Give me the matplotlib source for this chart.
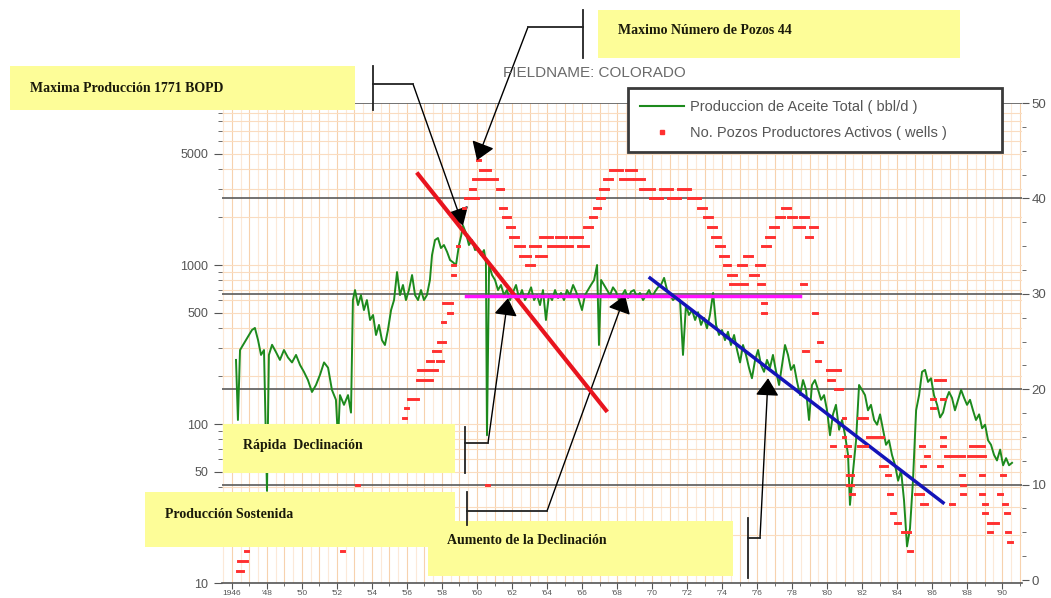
import matplotlib
matplotlib.use("Agg")
import matplotlib.pyplot as plt
import matplotlib.transforms as mtransforms
import numpy as np
from matplotlib.lines import Line2D
from matplotlib.patches import Rectangle
from matplotlib.ticker import (FixedLocator, FixedFormatter, FuncFormatter,
                               LogLocator, MultipleLocator, NullFormatter)

plt.rcParams['font.family'] = ['Liberation Sans', 'DejaVu Sans']

# oil rate, bbl/d
prod_year = [
    1946.23, 1946.34, 1946.46, 1946.63, 1946.80, 1946.97, 1947.14, 1947.31, 1947.49, 1947.66,
    1947.83, 1948.00, 1948.11, 1948.29, 1948.51, 1948.74, 1948.97, 1949.20, 1949.43, 1949.66,
    1949.89, 1950.11, 1950.34, 1950.57, 1950.80, 1951.03, 1951.26, 1951.49, 1951.71, 1951.94,
    1952.06, 1952.17, 1952.40, 1952.63, 1952.80,
    1952.91, 1953.03, 1953.20, 1953.37, 1953.54, 1953.71, 1953.89, 1954.06, 1954.23, 1954.40,
    1954.57, 1954.74, 1954.91, 1955.09, 1955.26, 1955.43, 1955.60, 1955.77, 1955.94, 1956.11,
    1956.29, 1956.46, 1956.63, 1956.80, 1956.97, 1957.14, 1957.31, 1957.43, 1957.60, 1957.77,
    1957.94, 1958.11, 1958.29, 1958.46, 1958.63, 1958.80, 1958.97, 1959.09, 1959.20,
    1959.37, 1959.54, 1959.71, 1959.89, 1960.06, 1960.23, 1960.40, 1960.51, 1960.57, 1960.69,
    1960.86, 1961.03, 1961.20, 1961.37, 1961.54, 1961.71, 1961.89, 1962.06, 1962.23, 1962.40,
    1962.57, 1962.74, 1962.91, 1963.09, 1963.26, 1963.43, 1963.60, 1963.77, 1963.94, 1964.11,
    1964.29, 1964.46, 1964.63, 1964.80, 1964.97, 1965.14, 1965.31, 1965.49, 1965.66, 1965.83,
    1966.00, 1966.17, 1966.34, 1966.51, 1966.69, 1966.86, 1966.97, 1967.09, 1967.26, 1967.43,
    1967.60, 1967.77, 1967.94, 1968.11, 1968.29, 1968.46, 1968.63, 1968.80, 1968.97, 1969.14,
    1969.31, 1969.49, 1969.66, 1969.83, 1970.00, 1970.17, 1970.34, 1970.51, 1970.69, 1970.86,
    1971.03, 1971.20, 1971.37,
    1971.60, 1971.77, 1971.94, 1972.11, 1972.29, 1972.46, 1972.63, 1972.80, 1972.97, 1973.14,
    1973.31, 1973.49, 1973.66, 1973.83, 1974.00, 1974.17, 1974.34, 1974.51, 1974.69, 1974.86,
    1975.03, 1975.20, 1975.37, 1975.54, 1975.71, 1975.89, 1976.06, 1976.23, 1976.40, 1976.57,
    1976.74, 1976.91, 1977.09, 1977.26, 1977.43, 1977.60, 1977.77, 1977.94, 1978.11, 1978.29,
    1978.46, 1978.63, 1978.80, 1978.97, 1979.14, 1979.31, 1979.49, 1979.66, 1979.83, 1980.00,
    1980.17, 1980.34, 1980.51, 1980.69, 1980.86, 1981.03, 1981.20, 1981.31, 1981.49, 1981.66,
    1981.83, 1982.00, 1982.17, 1982.34, 1982.51, 1982.69, 1982.86, 1983.03, 1983.20, 1983.37,
    1983.54, 1983.71, 1983.89, 1984.06, 1984.23, 1984.40, 1984.57, 1984.74, 1984.91, 1985.09,
    1985.26, 1985.43, 1985.60, 1985.77, 1985.94, 1986.11, 1986.29, 1986.46, 1986.63, 1986.80,
    1986.97, 1987.14, 1987.31, 1987.49, 1987.66, 1987.83, 1988.00, 1988.17, 1988.34, 1988.51,
    1988.69, 1988.86, 1989.03, 1989.20, 1989.37, 1989.54, 1989.71, 1989.89, 1990.06, 1990.23,
    1990.40, 1990.57,
]
prod_bopd = [
    253, 106, 292, 314, 337, 363, 390, 402, 337, 272,
    292, 38, 272, 315, 284, 253, 292, 262, 244, 272,
    235, 213, 189, 159, 176, 204, 244, 226, 164, 142,
    79, 152, 132, 152, 118,
    602, 696, 560, 647, 521, 602, 451, 485, 363, 420,
    337, 314, 390, 521, 602, 903, 647, 749, 602, 696,
    865, 647, 602, 696, 602, 647, 805, 1155, 1436, 1479,
    1279, 1336, 1210, 1075, 1040, 1000, 1336, 1520, 1771,
    1588, 1336, 1436, 1242, 1279, 1155, 1242, 1040, 85, 1000,
    865, 805, 696, 749, 647, 696, 602, 676, 749, 620,
    696, 602, 647, 724, 602, 647, 560, 696, 451, 647,
    602, 696, 620, 667, 602, 696, 647, 749, 680, 602,
    521, 647, 696, 749, 805, 1000, 314, 805, 749, 696,
    647, 724, 680, 602, 647, 696, 620, 680, 696, 630,
    667, 602, 647, 696, 630, 680, 724, 749, 830, 696,
    647, 602, 630,
    602, 272, 560, 485, 521, 451, 505, 420, 465, 400,
    485, 667, 420, 363, 390, 337, 380, 314, 363, 292,
    244, 314, 272, 226, 194, 253, 292, 235, 213, 253,
    226, 272, 213, 176, 235, 314, 272, 219, 235, 184,
    152, 189, 164, 106, 176, 189, 164, 142, 152, 122,
    85, 115, 132, 92, 106, 85, 64, 31, 51, 79,
    176, 164, 152, 122, 132, 106, 99, 115, 92, 74,
    79, 64, 55, 44, 51, 33, 17, 22, 44, 122,
    152, 213, 219, 184, 194, 152, 132, 110, 118, 142,
    159, 146, 122, 142, 164, 146, 132, 142, 122, 106,
    115, 94, 99, 79, 74, 64, 59, 69, 55, 61,
    55, 57,
]

# active producing wells: each run holds one count between two dates
well_start = [
    1946.29, 1946.34, 1946.74, 1952.23, 1953.09, 1955.77, 1955.89, 1956.06, 1956.57, 1956.63,
    1957.14, 1957.71, 1957.49, 1957.77, 1958.00, 1958.34, 1958.06, 1958.57, 1958.57, 1958.86,
    1959.20, 1959.31, 1959.60, 1959.77, 1960.17, 1960.00, 1960.51,
    1961.14, 1961.31, 1961.49, 1961.71, 1961.89, 1962.17, 1962.46, 1962.80, 1963.03, 1963.37,
    1963.60, 1964.06, 1964.51, 1964.86, 1965.31, 1965.77, 1966.11, 1966.46, 1966.69, 1966.86,
    1967.03, 1967.26, 1967.60, 1968.17, 1968.51, 1968.97, 1969.31, 1969.89, 1970.46, 1970.91,
    1971.49, 1972.06, 1972.63, 1972.97, 1973.20, 1973.43, 1973.66, 1973.89, 1974.11, 1974.34,
    1974.46, 1974.91, 1975.26, 1975.60, 1975.94, 1976.06, 1976.29, 1976.29, 1976.29, 1976.51,
    1976.74, 1977.09, 1977.43, 1977.77, 1978.11, 1978.46, 1978.51, 1978.63, 1978.80, 1979.03,
    1979.20, 1979.49, 1979.37, 1980.00, 1980.06, 1980.46, 1980.91, 1980.91, 1980.23, 1981.03,
    1981.03, 1981.14, 1981.14, 1981.31, 1981.77, 1981.77, 1982.29, 1983.03, 1983.37, 1983.49,
    1983.66, 1983.89, 1984.29, 1984.63, 1985.03, 1985.37, 1985.31, 1985.37, 1985.60, 1985.94,
    1985.94, 1986.17, 1986.51, 1986.51, 1986.51, 1986.51, 1986.74, 1986.34, 1987.03, 1987.03,
    1987.60, 1987.66, 1987.66, 1988.17, 1988.06, 1988.74, 1988.74, 1988.91, 1988.91, 1989.20,
    1989.20, 1989.94, 1989.77, 1990.06, 1990.17, 1990.23, 1990.34,
]
well_end = [
    1946.63, 1946.86, 1946.91, 1952.40, 1953.26, 1955.94, 1956.06, 1956.63, 1957.43, 1957.71,
    1957.49, 1958.06, 1957.89, 1958.17, 1958.17, 1958.57, 1958.57, 1958.74, 1958.74, 1958.97,
    1959.31, 1960.06, 1959.89, 1961.14, 1960.74, 1960.17, 1960.69,
    1961.49, 1961.66, 1961.89, 1962.11, 1962.34, 1962.69, 1963.03, 1963.26, 1963.60, 1963.94,
    1964.29, 1964.74, 1965.09, 1965.43, 1966.00, 1966.34, 1966.57, 1966.80, 1967.03, 1967.26,
    1967.49, 1967.71, 1968.29, 1968.86, 1969.09, 1969.54, 1970.11, 1970.57, 1971.14, 1971.60,
    1972.17, 1972.74, 1973.09, 1973.43, 1973.66, 1973.89, 1974.11, 1974.34, 1974.46, 1974.80,
    1975.43, 1975.37, 1975.71, 1976.06, 1976.40, 1976.40, 1976.51, 1976.51, 1976.74, 1976.97,
    1977.20, 1977.54, 1977.89, 1978.23, 1978.69, 1978.91, 1978.80, 1978.91, 1979.14, 1979.43,
    1979.43, 1979.71, 1979.60, 1980.74, 1980.40, 1980.86, 1981.03, 1981.03, 1980.46, 1981.31,
    1981.31, 1981.49, 1981.49, 1981.54, 1982.29, 1982.29, 1983.20, 1983.43, 1983.60, 1983.71,
    1983.89, 1984.17, 1984.74, 1984.86, 1985.49, 1985.71, 1985.54, 1985.60, 1985.83, 1986.17,
    1986.17, 1986.40, 1986.74, 1986.74, 1986.74, 1986.74, 1986.97, 1986.57, 1987.83, 1987.26,
    1987.83, 1987.89, 1987.89, 1988.97, 1989.03, 1988.97, 1988.97, 1989.14, 1989.14, 1989.77,
    1989.43, 1990.17, 1990.00, 1990.29, 1990.40, 1990.46, 1990.57,
]
well_count = [
    1, 2, 3, 3, 10, 17, 18, 19, 21, 22,
    23, 23, 24, 25, 27, 28, 29, 32, 33, 35,
    39, 40, 41, 42, 43, 44, 10,
    41, 39, 38, 37, 36, 35, 34, 33, 35, 34,
    36, 35, 36, 35, 36, 35, 37, 38, 39, 40,
    41, 42, 43, 42, 43, 42, 41, 40, 41, 40,
    41, 40, 39, 38, 37, 36, 35, 34, 33, 32,
    31, 33, 34, 32, 33, 31, 29, 28, 35, 36,
    37, 38, 39, 38, 37, 38, 31, 24, 36, 37,
    28, 25, 23, 22, 21, 20, 17, 15, 14, 13,
    14, 10, 11, 9, 14, 17, 15, 12, 11, 9,
    7, 6, 5, 3, 9, 8, 14, 12, 13, 18,
    19, 21, 21, 19, 15, 14, 13, 12, 13, 8,
    11, 10, 9, 14, 13, 11, 9, 8, 7, 6,
    5, 11, 9, 8, 7, 5, 4,
]

# hand-drawn trend lines (year, bbl/d)
rapid_year, rapid_bopd = [1956.63, 1967.37], [3730, 122]
steady_year, steady_bopd = [1959.37, 1978.46], [640, 640]
late_year, late_bopd = [1969.89, 1986.63], [828, 32]

left_ticks = [10, 50, 100, 500, 1000, 5000]
left_labels = ['10', '50', '100', '500', '1000', '5000']

GREEN = '#1d8a1d'
RED = '#ff3030'
YELLOW = '#fdfd98'
GRAY = '#555555'

W, H = 1051, 598


def fx(x):
    return x / W


def fy(y):
    return 1 - y / H


fig = plt.figure(figsize=(W / 100, H / 100), dpi=100)
ax = fig.add_axes([fx(222), fy(583), (1022 - 222) / W, (583 - 103) / H])
ax.set_yscale('log')
ax.set_ylim(10, 10450)
ax.set_xlim(1945.43, 1991.14)

ax2 = ax.twinx()
ax2.set_ylim(-0.31, 50)

# orange chart paper
ax.grid(True, which='both', axis='y', color='#fadcc0', lw=0.8)
half_years = np.arange(1945.5, 1991.01, 0.5)
ax.vlines(half_years, 0, 1, transform=ax.get_xaxis_transform(),
          colors=['#f7d2ae' if h % 1 == 0 else '#fce9d8' for h in half_years],
          lw=0.8, zorder=0.5)

# dark rules at the well-count decades
rule_tr = mtransforms.blended_transform_factory(ax.transAxes, ax2.transData)
ax.hlines([10, 20, 30, 40, 50], 0, 1, transform=rule_tr, colors='#5a5a5a', lw=1.2, zorder=1)

ax.plot(prod_year, prod_bopd, color=GREEN, lw=1.4, zorder=3)
ax.plot(rapid_year, rapid_bopd, color='#e8141e', lw=3, zorder=4)
ax.plot(steady_year, steady_bopd, color='#ff10ff', lw=2.5, zorder=4)
ax.plot(late_year, late_bopd, color='#1414b8', lw=2.5, zorder=4)

ax2.hlines(well_count, well_start, well_end, colors=RED, lw=2.1, capstyle='projecting')

# axes styling
for a in (ax, ax2):
    for s in ('left', 'right', 'top'):
        a.spines[s].set_visible(False)
ax2.spines['bottom'].set_visible(False)
ax.spines['bottom'].set_color(GRAY)
ax.spines['bottom'].set_linewidth(1.2)

ax.xaxis.set_major_locator(MultipleLocator(2))
ax.xaxis.set_minor_locator(MultipleLocator(1))
ax.xaxis.set_major_formatter(FuncFormatter(
    lambda v, p: '1946' if int(round(v)) == 1946 else "'%02d" % (int(round(v)) % 100)))
ax.tick_params(axis='x', which='major', labelsize=6, colors=GRAY, length=4, pad=1)
ax.tick_params(axis='x', which='minor', colors=GRAY, length=2)

ax.yaxis.set_major_locator(FixedLocator(left_ticks))
ax.yaxis.set_major_formatter(FixedFormatter(left_labels))
ax.yaxis.set_minor_locator(LogLocator(base=10, subs=np.arange(2, 10), numticks=20))
ax.yaxis.set_minor_formatter(NullFormatter())
ax.tick_params(axis='y', which='major', labelsize=9, colors=GRAY, length=6, pad=4)
ax.tick_params(axis='y', which='minor', colors=GRAY, length=3)

ax2.yaxis.set_major_locator(MultipleLocator(10))
ax2.yaxis.set_minor_locator(MultipleLocator(2.5))
ax2.tick_params(axis='y', which='major', labelsize=9.5, colors=GRAY, length=5, pad=2)
ax2.tick_params(axis='y', which='minor', colors=GRAY, length=3)

fig.text(fx(594), fy(73), 'FIELDNAME: COLORADO', ha='center', va='center',
         color='#6a6a6a', fontsize=11)

handles = [Line2D([], [], color=GREEN, lw=1.5),
           Line2D([], [], color=RED, marker='s', ms=2.5, ls='none')]
leg = fig.legend(handles, ['Produccion de Aceite Total ( bbl/d )',
                           'No. Pozos Productores Activos ( wells )'],
                 loc='upper left', mode='expand',
                 bbox_to_anchor=(fx(628), fy(158), (1002 - 628) / W, (158 - 88) / H),
                 borderaxespad=0, fontsize=10.5, handlelength=3, handletextpad=0.4,
                 borderpad=0.85, labelspacing=0.8, fancybox=False, framealpha=1,
                 labelcolor=GRAY)
leg.get_frame().set_edgecolor('#3a3a3a')
leg.get_frame().set_linewidth(2)

# yellow callouts: (x0, y0, x1, y1) box, text origin, bracket, bend point
callouts = [
    ('Maxima Producción 1771 BOPD', (10, 66, 355, 110), (30, 88),
     (373, 66, 110), (373, 413, 84), ax, (1959.2, 1771)),
    ('Maximo Número de Pozos 44', (598, 10, 960, 58), (618, 30),
     (583, 10, 58), (583, 528, 27), ax2, (1960.0, 44)),
    ('Rápida  Declinación', (223, 424, 455, 473), (243, 446),
     (465, 427, 473), (465, 488, 443), ax, (1961.77, 619)),
    ('Producción Sostenida', (145, 492, 455, 547), (165, 515),
     (467, 492, 525), (467, 547, 511), ax, (1968.46, 647)),
    ('Aumento de la Declinación', (428, 521, 733, 576), (447, 540),
     (748, 518, 578), (748, 760, 538), ax, (1976.63, 194)),
]
for label, box, txt, vbar, hbar, target_ax, tip in callouts:
    x0, y0, x1, y1 = box
    fig.add_artist(Rectangle((fx(x0), fy(y1)), (x1 - x0) / W, (y1 - y0) / H,
                             transform=fig.transFigure, facecolor=YELLOW,
                             edgecolor='none', zorder=4))
    fig.text(fx(txt[0]), fy(txt[1]), label, fontsize=10, fontweight='bold',
             family='Liberation Serif', color='#1a1a0a', va='center', zorder=6)
    fig.add_artist(Line2D([fx(vbar[0])] * 2, [fy(vbar[1]), fy(vbar[2])],
                          transform=fig.transFigure, color='#222222', lw=1.3, zorder=5))
    fig.add_artist(Line2D([fx(hbar[0]), fx(hbar[1])], [fy(hbar[2])] * 2,
                          transform=fig.transFigure, color='#222222', lw=1.3, zorder=5))
    target_ax.annotate('', xy=tip, xytext=(fx(hbar[1]), fy(hbar[2])),
                       textcoords='figure fraction', annotation_clip=False,
                       arrowprops=dict(arrowstyle='-|>,head_length=0.6,head_width=0.4',
                                       mutation_scale=18, color='black', lw=1,
                                       shrinkA=0, shrinkB=0))

fig.savefig('out.png', dpi=100)
